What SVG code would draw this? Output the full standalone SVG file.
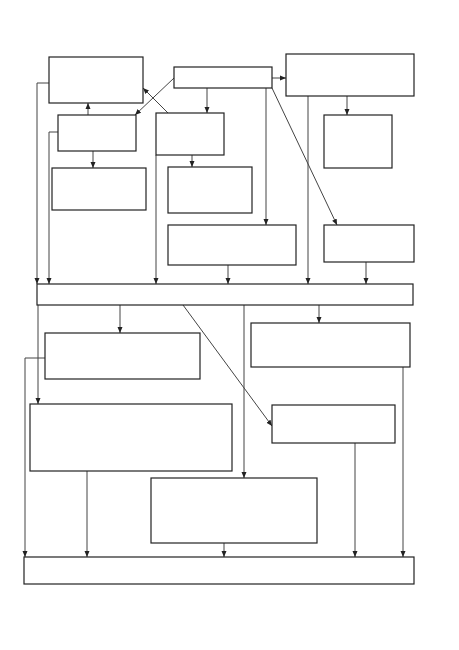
<svg xmlns="http://www.w3.org/2000/svg" width="459" height="650" viewBox="0 0 459 650">
<style>
.box{fill:#fff;stroke:#222;stroke-width:1.2}
.c{fill:none;stroke:#444;stroke-width:1}
</style>
<defs>
<marker id="ah" markerUnits="userSpaceOnUse" markerWidth="6" markerHeight="6" viewBox="0 0 6 6" refX="6" refY="3" orient="auto">
<path d="M0,0.5 L6,3 L0,5.5 Z" fill="#222"/>
</marker>
</defs>
<rect width="459" height="650" fill="#fff"/>
<g id="connectors">
<path class="c" d="M272,78 H286" marker-end="url(#ah)"/>
<path class="c" d="M207,88 V113" marker-end="url(#ah)"/>
<path class="c" d="M88,115 V103" marker-end="url(#ah)"/>
<path class="c" d="M174,78 L135,115" marker-end="url(#ah)"/>
<path class="c" d="M168,113 L143,88" marker-end="url(#ah)"/>
<path class="c" d="M347,96 V115" marker-end="url(#ah)"/>
<path class="c" d="M93,151 V168" marker-end="url(#ah)"/>
<path class="c" d="M192,155 V167" marker-end="url(#ah)"/>
<path class="c" d="M266,88 V225" marker-end="url(#ah)"/>
<path class="c" d="M272,88 L337,225" marker-end="url(#ah)"/>
<path class="c" d="M49,83 H37 V284" marker-end="url(#ah)"/>
<path class="c" d="M58,132 H49 V284" marker-end="url(#ah)"/>
<path class="c" d="M156,155 V284" marker-end="url(#ah)"/>
<path class="c" d="M228,265 V284" marker-end="url(#ah)"/>
<path class="c" d="M308,96 V284" marker-end="url(#ah)"/>
<path class="c" d="M366,262 V284" marker-end="url(#ah)"/>
<path class="c" d="M120,305 V333" marker-end="url(#ah)"/>
<path class="c" d="M319,305 V323" marker-end="url(#ah)"/>
<path class="c" d="M38,305 V404" marker-end="url(#ah)"/>
<path class="c" d="M183,305 L272,426" marker-end="url(#ah)"/>
<path class="c" d="M244,305 V478" marker-end="url(#ah)"/>
<path class="c" d="M45,358 H25 V557" marker-end="url(#ah)"/>
<path class="c" d="M87,471 V557" marker-end="url(#ah)"/>
<path class="c" d="M224,543 V557" marker-end="url(#ah)"/>
<path class="c" d="M355,443 V557" marker-end="url(#ah)"/>
<path class="c" d="M403,367 V557" marker-end="url(#ah)"/>
</g>
<g id="nA"><rect class="box" x="49" y="57" width="94" height="46"/></g>
<g id="nB"><rect class="box" x="174" y="67" width="98" height="21"/></g>
<g id="nC"><rect class="box" x="58" y="115" width="78" height="36"/></g>
<g id="nD"><rect class="box" x="156" y="113" width="68" height="42"/></g>
<g id="nE"><rect class="box" x="286" y="54" width="128" height="42"/></g>
<g id="nF"><rect class="box" x="324" y="115" width="68" height="53"/></g>
<g id="nJ"><rect class="box" x="52" y="168" width="94" height="42"/></g>
<g id="nI"><rect class="box" x="168" y="167" width="84" height="46"/></g>
<g id="nG"><rect class="box" x="168" y="225" width="128" height="40"/></g>
<g id="nH"><rect class="box" x="324" y="225" width="90" height="37"/></g>
<g id="nK"><rect class="box" x="37" y="284" width="376" height="21"/></g>
<g id="nL"><rect class="box" x="45" y="333" width="155" height="46"/></g>
<g id="nO"><rect class="box" x="251" y="323" width="159" height="44"/></g>
<g id="nM"><rect class="box" x="30" y="404" width="202" height="67"/></g>
<g id="nN"><rect class="box" x="272" y="405" width="123" height="38"/></g>
<g id="nP"><rect class="box" x="151" y="478" width="166" height="65"/></g>
<g id="nQ"><rect class="box" x="24" y="557" width="390" height="27"/></g>
</svg>
